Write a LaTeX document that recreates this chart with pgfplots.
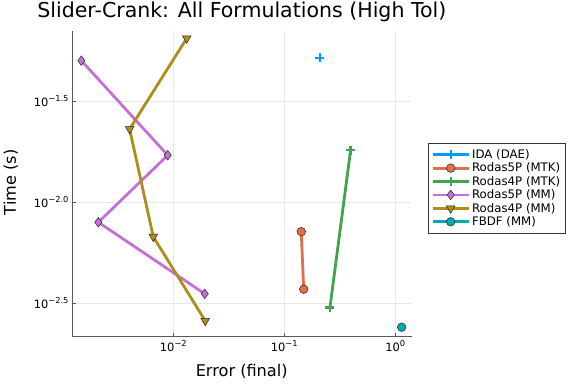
\documentclass[border=0pt]{standalone}
\usepackage{fontspec}
\setmainfont{DejaVu Sans}
\usepackage{pgfplots}
\pgfplotsset{compat=1.18}
\definecolor{c1}{RGB}{0,154,250}
\definecolor{c2}{RGB}{227,111,71}
\definecolor{c3}{RGB}{62,164,78}
\definecolor{c4}{RGB}{195,113,210}
\definecolor{c5}{RGB}{172,142,24}
\definecolor{c6}{RGB}{0,170,174}
\newcommand{\tp}[1]{10\raisebox{0.45em}{\fontsize{8.3}{8.3}\selectfont #1}}
\begin{document}
\begin{tikzpicture}
\useasboundingbox (0,0) rectangle (576bp,384bp);
\begin{axis}[
  at={(72bp,47.3bp)}, anchor=south west,
  scale only axis, width=339.7bp, height=306bp,
  xmode=log, ymode=log,
  xmin=0.001222, xmax=1.406, ymin=0.002153, ymax=0.07047,
  axis lines*=left,
  axis line style={black!65, line width=0.9bp},
  xtick={0.01,0.1,1}, xticklabels={\tp{−2},\tp{−1},\tp{0}},
  ytick={0.0031623,0.01,0.031623}, yticklabels={\tp{−2.5},\tp{−2.0},\tp{−1.5}},
  xminorticks=false, yminorticks=false,
  major tick length=4bp, tick align=inside,
  tick style={black!65, line width=0.8bp},
  grid=major, grid style={black!9, line width=0.6bp},
  ticklabel style={font=\fontsize{11.5}{13}\selectfont},
  title={Slider-Crank: All Formulations (High Tol)},
  every axis title/.style={font=\fontsize{20.6}{23}\selectfont, at={(axis description cs:0.5,1.0431)}, anchor=base},
  xlabel={Error (final)},
  xlabel style={font=\fontsize{16.2}{18}\selectfont, at={(axis description cs:0.4996,-0.114)}, anchor=center},
  ylabel={Time (s)},
  ylabel style={font=\fontsize{16.2}{18}\selectfont, at={(axis description cs:-0.180,0.504)}, anchor=center, rotate=0},
  legend style={at={(axis description cs:1.048,0.634)}, anchor=north west,
    font=\fontsize{11.8}{12.9}\selectfont, draw=black!80, line width=0.6bp,
    inner xsep=3bp, inner ysep=4.5bp, row sep=-1.0bp},
  legend cell align=left,
  legend image code/.code={
    \draw[mark repeat=2,mark phase=2] plot coordinates {(0bp,0bp) (18bp,0bp) (36bp,0bp)};
  },
  every axis plot/.append style={line width=2.8bp},
]
\addplot[c1, mark=+, mark size=4.5bp, mark options={solid, line width=2.4bp}] coordinates {(0.2085,0.0518)};
\addlegendentry{IDA (DAE)}
\addplot[c2, mark=*, mark size=4.3bp, mark options={solid, fill=c2, draw=black!85, line width=0.5bp}] coordinates {(0.1422,0.00713) (0.1496,0.00370)};
\addlegendentry{Rodas5P (MTK)}
\addplot[c3, mark=+, mark size=4.5bp, mark options={solid, line width=2.4bp}] coordinates {(0.396,0.01808) (0.258,0.00301)};
\addlegendentry{Rodas4P (MTK)}
\addplot[c4, mark=diamond*, mark size=4.8bp, mark options={solid, fill=c4, draw=black!85, line width=0.5bp}] coordinates {(0.001483,0.0501) (0.00891,0.01703) (0.00211,0.00794) (0.0192,0.00351)};
\addlegendentry{Rodas5P (MM)}
\addplot[c5, mark=triangle*, mark size=5bp, mark options={solid, fill=c5, draw=black!85, line width=0.5bp, rotate=180}] coordinates {(0.01321,0.0646) (0.00404,0.02296) (0.00660,0.00673) (0.0194,0.00258)};
\addlegendentry{Rodas4P (MM)}
\addplot[c6, mark=*, mark size=4.3bp, mark options={solid, fill=c6, draw=black!85, line width=0.5bp}] coordinates {(1.142,0.00240)};
\addlegendentry{FBDF (MM)}
\end{axis}
\end{tikzpicture}
\end{document}
